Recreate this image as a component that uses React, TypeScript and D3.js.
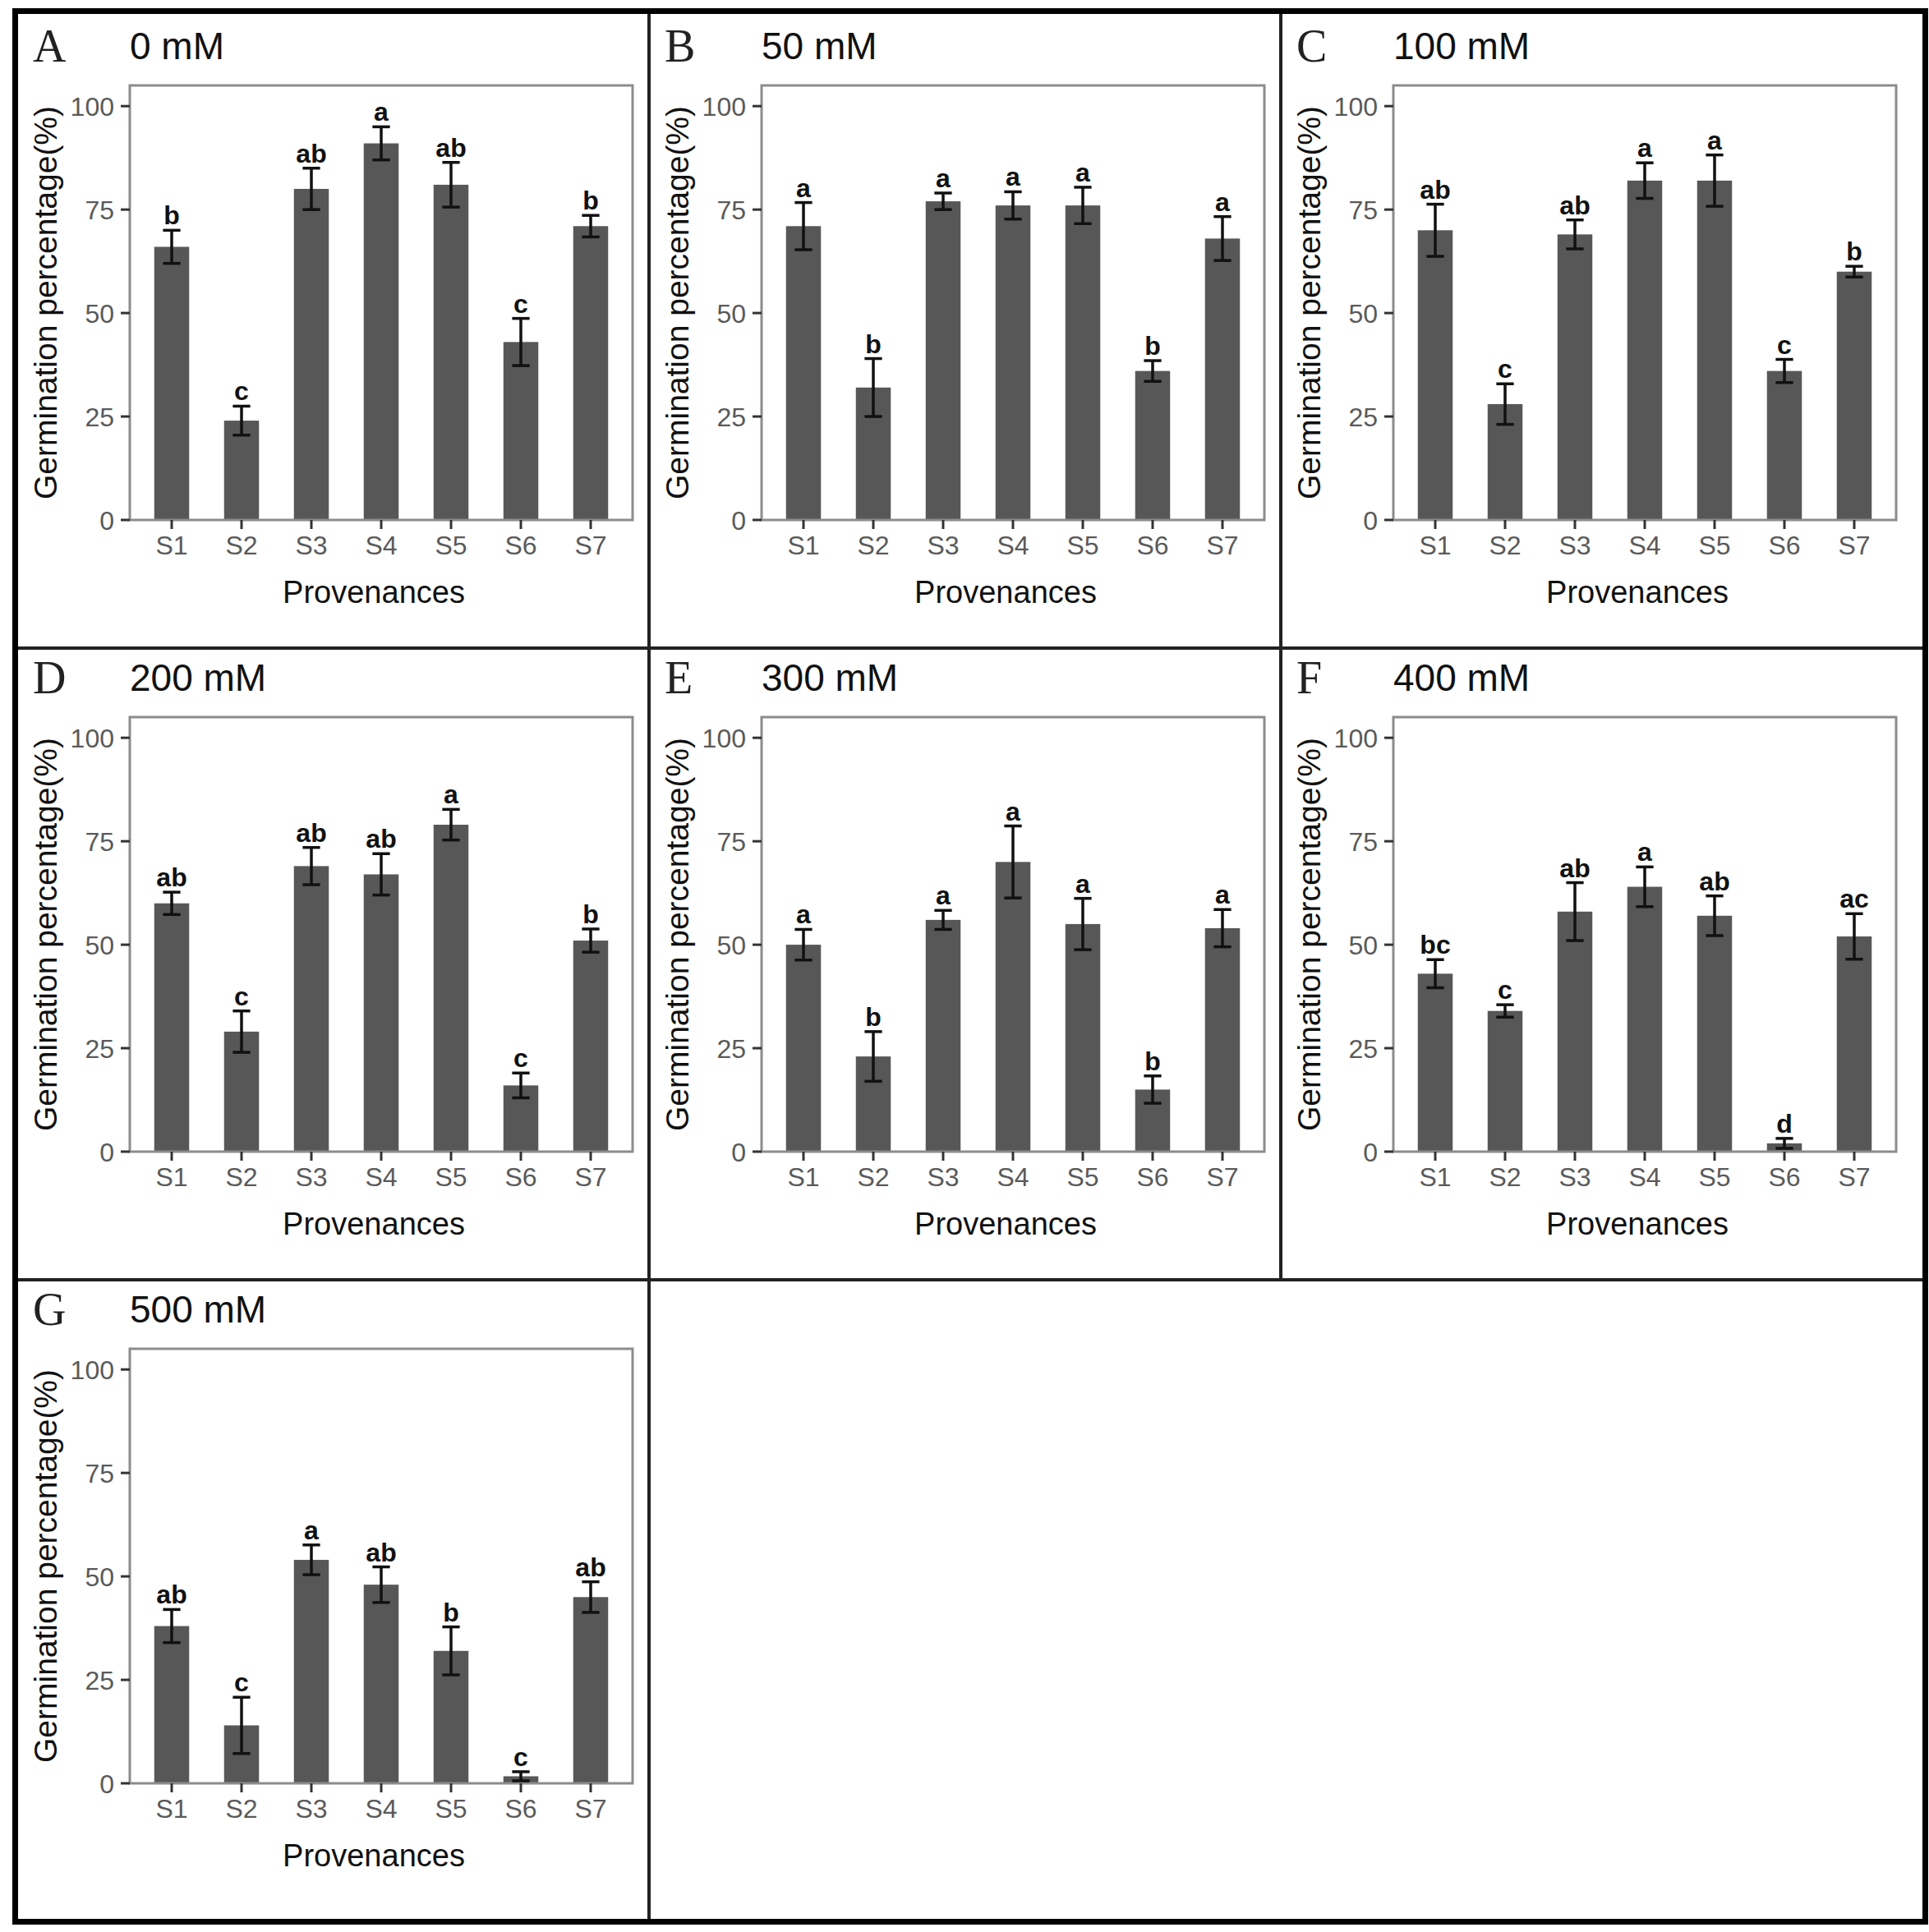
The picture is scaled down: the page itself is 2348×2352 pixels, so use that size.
import React from 'react';
import * as d3 from 'd3';

// provenances on the x axis
const provenances = ['S1', 'S2', 'S3', 'S4', 'S5', 'S6', 'S7'];
const yTicks = [0, 25, 50, 75, 100];

const panelTags = ['A', 'B', 'C', 'D', 'E', 'F', 'G'];
const treatments = ['0 mM', '50 mM', '100 mM', '200 mM', '300 mM', '400 mM', '500 mM'];

// germination percentage (mean), error and significance letters per treatment
const mean0 = [66, 24, 80, 91, 81, 43, 71];
const err0 = [4, 3.5, 5, 4, 5.4, 5.7, 2.6];
const sig0 = ['b', 'c', 'ab', 'a', 'ab', 'c', 'b'];

const mean50 = [71, 32, 77, 76, 76, 36, 68];
const err50 = [5.7, 7, 2, 3.3, 4.4, 2.5, 5.3];
const sig50 = ['a', 'b', 'a', 'a', 'a', 'b', 'a'];

const mean100 = [70, 28, 69, 82, 82, 36, 60];
const err100 = [6.3, 4.9, 3.5, 4.3, 6.2, 2.8, 1.3];
const sig100 = ['ab', 'c', 'ab', 'a', 'a', 'c', 'b'];

const mean200 = [60, 29, 69, 67, 79, 16, 51];
const err200 = [2.7, 5, 4.5, 5, 3.7, 3, 2.8];
const sig200 = ['ab', 'c', 'ab', 'ab', 'a', 'c', 'b'];

const mean300 = [50, 23, 56, 70, 55, 15, 54];
const err300 = [3.7, 6, 2.3, 8.7, 6.2, 3.3, 4.5];
const sig300 = ['a', 'b', 'a', 'a', 'a', 'b', 'a'];

const mean400 = [43, 34, 58, 64, 57, 2, 52];
const err400 = [3.4, 1.5, 7, 4.8, 4.8, 1.2, 5.5];
const sig400 = ['bc', 'c', 'ab', 'a', 'ab', 'd', 'ac'];

const mean500 = [38, 14, 54, 48, 32, 1.7, 45];
const err500 = [4, 6.8, 3.6, 4.3, 5.8, 1.1, 3.7];
const sig500 = ['ab', 'c', 'a', 'ab', 'b', 'c', 'ab'];

const allMeans = [mean0, mean50, mean100, mean200, mean300, mean400, mean500];
const allErrs = [err0, err50, err100, err200, err300, err400, err500];
const allSigs = [sig0, sig50, sig100, sig200, sig300, sig400, sig500];

const W = 2348;
const H = 2352;
const colX = [21, 790, 1559];
const rowY = [20, 789, 1558];

const sans = '"Liberation Sans", Arial, sans-serif';
const serif = '"Liberation Serif", "Times New Roman", serif';

// plot area inside a panel cell
const plotL = 137;
const plotR = 749;
const plotT = 84;
const plotB = 613;

function Panel({ idx }: { idx: number }) {
    const ox = colX[idx % 3];
    const oy = rowY[Math.floor(idx / 3)];
    const means = allMeans[idx];
    const errs = allErrs[idx];
    const sigs = allSigs[idx];

    const x = d3.scalePoint<string>().domain(provenances).range([plotL, plotR]).padding(0.6);
    const y = d3.scaleLinear().domain([0, 105]).range([plotB, plotT]);
    const step = x.step();
    const barW = step * 0.5;
    const capW = step * 0.25;

    return (
        <g transform={`translate(${ox},${oy})`}>
            <text x={19} y={55} fontFamily={serif} fontSize={56} fill="#222">{panelTags[idx]}</text>
            <text x={137} y={52} fontFamily={sans} fontSize={46} fill="#111">{treatments[idx]}</text>

            {/* bars */}
            {provenances.map((p, i) => (
                <rect key={p} x={x(p)! - barW / 2} y={y(means[i])} width={barW}
                    height={y(0) - y(means[i])} fill="#575757" />
            ))}

            {/* panel border */}
            <rect x={plotL} y={plotT} width={plotR - plotL} height={plotB - plotT}
                fill="none" stroke="#8c8c8c" strokeWidth={3} />

            {/* error bars */}
            {provenances.map((p, i) => {
                const cx = x(p)!;
                const top = y(means[i] + errs[i]);
                const bot = y(Math.max(0, means[i] - errs[i]));
                return (
                    <g key={p} stroke="#111" strokeWidth={3.5}>
                        <line x1={cx} x2={cx} y1={top} y2={bot} />
                        <line x1={cx - capW / 2} x2={cx + capW / 2} y1={top} y2={top} />
                        <line x1={cx - capW / 2} x2={cx + capW / 2} y1={bot} y2={bot} />
                    </g>
                );
            })}

            {/* significance letters */}
            {provenances.map((p, i) => (
                <text key={p} x={x(p)!} y={y(means[i] + errs[i]) - 7} textAnchor="middle"
                    fontFamily={sans} fontWeight="bold" fontSize={32} fill="#111">{sigs[i]}</text>
            ))}

            {/* y axis */}
            {yTicks.map(t => (
                <g key={t}>
                    <line x1={plotL - 11} x2={plotL} y1={y(t)} y2={y(t)} stroke="#333" strokeWidth={3} />
                    <text x={plotL - 19} y={y(t)} dy="0.36em" textAnchor="end"
                        fontFamily={sans} fontSize={32} fill="#5a5a5a">{t}</text>
                </g>
            ))}

            {/* x axis */}
            {provenances.map(p => (
                <g key={p}>
                    <line x1={x(p)} x2={x(p)} y1={plotB} y2={plotB + 11} stroke="#333" strokeWidth={3} />
                    <text x={x(p)} y={plotB + 42} textAnchor="middle"
                        fontFamily={sans} fontSize={32} fill="#5a5a5a">{p}</text>
                </g>
            ))}

            <text x={(plotL + plotR) / 2 - 9} y={plotB + 101} textAnchor="middle"
                fontFamily={sans} fontSize={38} fill="#111">Provenances</text>
            <text transform={`translate(48,${(plotT + plotB) / 2}) rotate(-90)`} textAnchor="middle"
                fontFamily={sans} fontSize={39} fill="#111">Germination percentage(%)</text>
        </g>
    );
}

export default function App() {
    return (
        <div style={{ position: 'absolute', left: 0, top: 0, width: W, height: H, background: '#fff' }}>
            <svg width={W} height={H} viewBox={`0 0 ${W} ${H}`}>
                <rect width={W} height={H} fill="#fff" />
                {panelTags.map((t, i) => <Panel key={t} idx={i} />)}

                {/* dividers between panels */}
                <g stroke="#222" strokeWidth={4}>
                    <line x1={790} x2={790} y1={14} y2={2340} />
                    <line x1={1559} x2={1559} y1={14} y2={1558} />
                    <line x1={18} x2={2344} y1={789} y2={789} />
                    <line x1={18} x2={2344} y1={1558} y2={1558} />
                </g>

                {/* outer frame */}
                <rect x={18.5} y={13.5} width={2325} height={2326} fill="none" stroke="#000" strokeWidth={7} />
            </svg>
        </div>
    );
}
